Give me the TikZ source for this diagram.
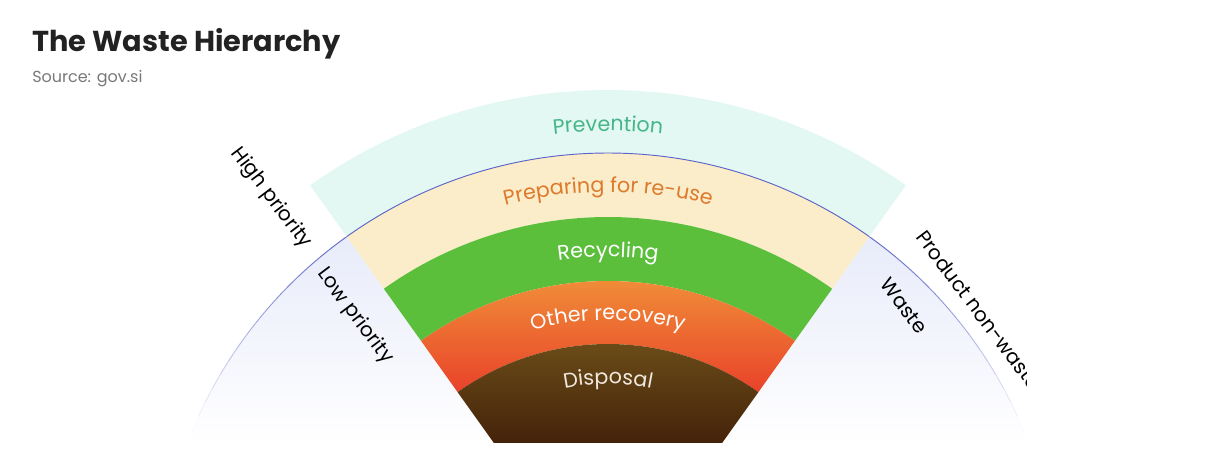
\documentclass[tikz,border=0pt]{standalone}
\usepackage{fontspec}
\setmainfont{Poppins}
\usetikzlibrary{decorations.text}
\definecolor{titlegray}{RGB}{34,34,34}
\definecolor{srcgray}{RGB}{120,120,120}
\definecolor{lav}{RGB}{232,235,250}
\definecolor{arcblue}{RGB}{92,100,200}
\definecolor{prevfill}{RGB}{228,248,243}
\definecolor{prevtext}{RGB}{70,182,138}
\definecolor{prepfill}{RGB}{251,236,202}
\definecolor{preptext}{RGB}{221,122,43}
\definecolor{recyfill}{RGB}{91,191,60}
\definecolor{recotop}{RGB}{241,153,58}
\definecolor{recobot}{RGB}{233,66,42}
\definecolor{disptop}{RGB}{112,82,26}
\definecolor{dispbot}{RGB}{68,34,10}
\definecolor{disptext}{RGB}{240,232,222}
\newcommand{\bandfont}{\fontsize{15.5}{18}\selectfont}
\newcommand{\bandpath}[2]{(54.5:#1) arc[start angle=54.5, end angle=125.5, radius=#1] -- (125.5:#2) arc[start angle=125.5, end angle=54.5, radius=#2] -- cycle}
\newcommand{\bandlabel}[3]{\path[decorate, decoration={text along path, text align=center, text={|\bandfont\color{#2}|#3}}] (125.5:#1) arc[start angle=125.5, end angle=54.5, radius=#1];}

\begin{document}
\begin{tikzpicture}[x=0.75pt, y=0.75pt,
    sidetext/.style={font=\fontsize{15}{17}\selectfont, rotate=-53, inner sep=0},
    arcline/.style={line width=0.7pt}]
    \useasboundingbox (-608,129) rectangle (604,603);

    \node (title) [anchor=base west, inner sep=0, text=titlegray, font=\fontsize{21.6}{25}\selectfont\bfseries] at (-576,551) {The Waste Hierarchy};
    \node (source) [anchor=base west, inner sep=0, text=srcgray, font=\fontsize{12}{14}\selectfont] at (-576,520) {Source: gov.si};

    \shade[top color=lav, bottom color=white]
        (125.5:450) arc[start angle=125.5, end angle=159.2, radius=450] -- (-114.1,160) -- cycle
        (54.5:450) arc[start angle=54.5, end angle=20.8, radius=450] -- (114.1,160) -- cycle;
    \foreach \a in {125.5,127.5,...,157.5} {
        \pgfmathsetmacro{\k}{max(0,min(100,(450*sin(\a+1)-175)/1.9))}
        \draw[arcline, color=arcblue!\k!white] (\a:450) arc[start angle=\a, end angle=\a+2, radius=450];
        \draw[arcline, color=arcblue!\k!white] ({180-\a}:450) arc[start angle=180-\a, end angle=178-\a, radius=450];
    }

    \fill[prevfill] \bandpath{450}{513};
    \fill[prepfill] \bandpath{386}{450};
    \fill[recyfill] \bandpath{322}{386};
    \shade[top color=recotop, bottom color=recobot] \bandpath{259}{322};
    \shade[top color=disptop, bottom color=dispbot] (54.5:259) arc[start angle=54.5, end angle=125.5, radius=259] -- (-114.1,160) -- (114.1,160) -- cycle;
    \draw[arcline, arcblue] (54.5:450) arc[start angle=54.5, end angle=125.5, radius=450];

    \bandlabel{472}{prevtext}{Prevention}
    \bandlabel{411}{preptext}{Preparing for re-use}
    \bandlabel{346}{white}{Recycling}
    \bandlabel{283}{white}{Other recovery}
    \bandlabel{219}{disptext}{Disposal}

    \node (high) [sidetext] at (-337,405) {High priority};
    \node (low) [sidetext] at (-253,287) {Low priority};
    \node (waste) [sidetext] at (296,297) {Waste};
    \begin{scope}
        \clip (-608,129) rectangle (418,603);
        \node (nonwaste) [sidetext, anchor=west] at (313,370) {Product non-waste};
    \end{scope}
\end{tikzpicture}
\end{document}
